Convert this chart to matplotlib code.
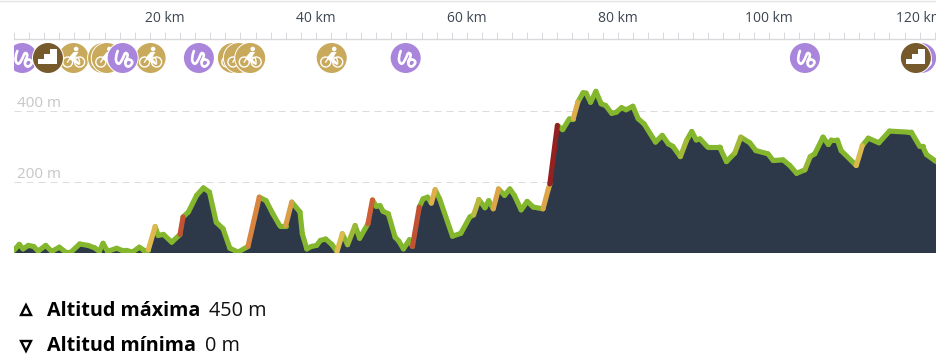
import matplotlib
matplotlib.use("Agg")
import matplotlib.pyplot as plt
import numpy as np
from matplotlib.collections import LineCollection
from matplotlib.colors import LinearSegmentedColormap, Normalize
from matplotlib.lines import Line2D
from matplotlib.patches import Ellipse, PathPatch
from matplotlib.path import Path

plt.rcParams["font.family"] = ["Open Sans", "DejaVu Sans"]

W, H = 937, 363
KM_MAX = 122.3

# perfil de altitud
km = [0, 0.7, 1.2, 1.9, 2.6, 3.2, 4.2, 5.0, 6.0, 6.8, 7.6, 8.7, 9.8, 10.7, 11.3, 11.8, 12.4, 13.6, 14.3, 14.9,
      15.7, 16.6, 17.1, 17.8, 18.7, 19.1, 19.8, 20.9, 22.0, 22.4, 23.1, 24.2, 25.1, 25.9, 26.8, 27.7, 28.6, 29.7,
      31.0, 32.5, 33.4, 34.3, 35.2, 36.0, 36.8, 37.9, 38.2, 38.8, 39.4, 40.1, 40.6, 41.3, 42.1, 42.8, 43.5, 44.2,
      45.2, 45.8, 46.9, 47.5, 48.0, 48.5, 48.9, 49.6, 50.5, 51.0, 51.6, 52.4, 52.8, 53.7, 54.2, 54.8, 55.3, 55.8,
      56.4, 58.1, 59.2, 60.4, 60.9, 61.6, 62.4, 62.9, 63.5, 64.2, 65.0, 65.7, 66.3, 67.2, 68.0, 68.8, 70.1, 70.8,
      71.0, 72.0, 72.7, 73.6, 74.1, 74.7, 75.4, 75.8, 76.4, 77.1, 77.8, 78.4, 79.2, 79.8, 80.5, 81.1, 82.0, 82.7,
      83.5, 85.0, 85.9, 86.7, 87.3, 88.3, 89.1, 89.8, 90.4, 90.9, 91.9, 93.5, 94.4, 95.5, 96.3, 97.5, 98.3, 99.9,
      100.6, 101.9, 102.8, 103.7, 104.8, 105.5, 106.1, 107.2, 107.9, 108.3, 109.1, 109.6, 111.6, 112.4, 113.2,
      114.6, 116.0, 118.5, 118.9, 120.0, 120.4, 120.9, 122.0, 122.3]
alt = [6, 23, 10, 20, 17, 4, 20, 3, 15, 2, 2, 24, 20, 13, 3, 26, 3, 12, 6, 6,
       1, 15, 8, 8, 73, 48, 51, 29, 51, 100, 114, 161, 182, 170, 85, 67, 12, 1,
       17, 156, 146, 109, 76, 76, 142, 114, 53, 10, 17, 20, 34, 38, 23, 3, 53, 22,
       76, 40, 81, 148, 130, 132, 116, 109, 43, 32, 10, 36, 17, 128, 151, 156, 139, 177,
       151, 46, 54, 100, 106, 149, 126, 146, 123, 179, 161, 179, 161, 120, 144, 128, 123, 179,
       193, 358, 346, 377, 377, 423, 450, 449, 423, 454, 419, 414, 392, 395, 408, 402, 412, 377,
       362, 311, 330, 306, 299, 270, 315, 341, 317, 320, 297, 297, 256, 280, 325, 309, 287, 278,
       259, 261, 245, 223, 233, 270, 278, 325, 304, 317, 317, 287, 245, 301, 322,
       309, 342, 339, 339, 299, 299, 276, 259, 255]

km_ticks = np.arange(0, 124, 2)
km_labels = [20, 40, 60, 80, 100, 120]
alt_labels = [200, 400]

# iconos, en orden de dibujo
icon_km = [1.1, 7.9, 11.8, 12.3, 18.1, 14.4, 4.5, 24.5, 29.0, 29.8, 31.3, 42.1, 51.9, 104.8, 120.2, 119.5]
icon_kind = ["curvas", "bici", "bici", "bici", "bici", "curvas", "escalera", "curvas", "bici", "bici", "bici",
             "bici", "curvas", "curvas", "curvas", "escalera"]
icon_colors = {"curvas": "#a986dc", "bici": "#c9aa5c", "escalera": "#775a2b"}

summary_labels = ["Altitud máxima", "Altitud mínima"]
summary_values = ["450 m", "0 m"]

slope_cmap = LinearSegmentedColormap.from_list(
    "pendiente", [(0, "#84b72e"), (0.28, "#84b72e"), (0.42, "#dfba4e"), (0.62, "#d4663a"), (1, "#8e1c20")])


def px_axes(left, top, right, bottom):
    return fig.add_axes([left / W, 1 - bottom / H, (right - left) / W, (bottom - top) / H])


def squiggle_path(pts):
    # curva suave que pasa por los puntos medios
    verts = [pts[0]]
    codes = [Path.MOVETO]
    for i in range(1, len(pts) - 1):
        verts += [pts[i], (pts[i] + pts[i + 1]) / 2]
        codes += [Path.CURVE3, Path.CURVE3]
    verts.append(pts[-1])
    codes.append(Path.LINETO)
    return Path(verts, codes)


def draw_icon(ax, x, kind, z):
    sx = 1 / PX_KM
    y = 58
    ax.add_patch(Ellipse((x, y), 32 * sx, 32, fc="white", ec="none", zorder=z))
    ax.add_patch(Ellipse((x, y), 30 * sx, 30, fc=icon_colors[kind], ec="none", zorder=z))
    if kind == "curvas":
        dx = np.array([-5, -8, -4, 0.5, 2.5, 6, 1.5, 5.5, 11, 5.5, 3])
        dy = np.array([-7, 1, 7.5, 0, -6, -3, 5, 10, 4, 0.5, 3.5])
        pts = np.column_stack([x + dx * sx, y + dy])
        ax.add_patch(PathPatch(squiggle_path(pts), fc="none", ec="white", lw=1.9, capstyle="round", zorder=z))
    elif kind == "escalera":
        dx = np.array([-10, -10, -4, -4, 2, 2, 9, 9, -10])
        dy = np.array([6, 1, 1, -4, -4, -9, -9, 6, 6])
        ax.fill(x + dx * sx, y + dy, color="white", ec="none", zorder=z)
    else:
        for off in (-6, 6):
            ax.add_patch(Ellipse((x + off * sx, y + 4), 10 * sx, 10, fc="none", ec="white", lw=1, zorder=z))
        ax.plot(x + np.array([-6, -2, 5, 6]) * sx, y + np.array([4, -2, 0, 4]), color="white", lw=1, zorder=z)
        ax.fill(x + np.array([0, 5, 1, 7, 5, -3, -5]) * sx, y + np.array([-6, -6, 0, 6, 7, 2, 0]), color="white",
                ec="none", zorder=z)
        ax.add_patch(Ellipse((x + 2.5 * sx, y - 9), 4.6 * sx, 4.6, fc="white", ec="none", zorder=z))


fig = plt.figure(figsize=(W / 100, H / 100), dpi=100, facecolor="white")
PX_KM = (W - 14) / KM_MAX

# perfil
ax = px_axes(14, 0, W, 252.5)
ax.set_xlim(0, KM_MAX)
ax.set_ylim(0, 252.5 / 0.355)
ax.axis("off")
for a in alt_labels:
    ax.axhline(a, color="#dcdcdc", lw=0.72, ls=(0, (7, 5)), zorder=1)
    ax.text(0.4, a - 2, f"{a} m", color="#c6c6c6", fontsize=11, va="bottom", ha="left", zorder=1)
ax.fill_between(km, alt, 0, color="#2d3949", lw=0, zorder=2)

km_arr = np.array(km)
alt_arr = np.array(alt)
segs = np.stack([np.column_stack([km_arr[:-1], alt_arr[:-1]]), np.column_stack([km_arr[1:], alt_arr[1:]])], axis=1)
slopes = np.diff(alt_arr) / np.diff(km_arr)
order = np.argsort(slopes)  # las subidas fuertes quedan encima
lc = LineCollection(segs[order], array=slopes[order], cmap=slope_cmap, norm=Normalize(0, 170), linewidths=3.7,
                    capstyle="round", joinstyle="round", zorder=3)
ax.add_collection(lc)

# regla de distancia
ruler = px_axes(14, 31, W, 38.5)
ruler.set_xlim(0, KM_MAX)
ruler.set_ylim(0, 1)
ruler.patch.set_visible(False)
for s in ["top", "left", "right"]:
    ruler.spines[s].set_visible(False)
ruler.spines["bottom"].set_color("#d9d9dd")
ruler.spines["bottom"].set_linewidth(1)
ruler.set_yticks([])
ruler.set_xticks(km_ticks)
ruler.tick_params(axis="x", direction="in", length=5, width=0.7, color="#d9d9dd", labelbottom=False)
for k in km_labels:
    fig.text((14 + k * PX_KM) / W, 1 - 18 / H, f"{k} km", color="#3d4652", fontsize=10, ha="center", va="center")
fig.add_artist(Line2D([0, 1], [1 - 0.5 / H] * 2, color="#e2e2e2", lw=1))

# iconos
icons = px_axes(14, 38, W, 78)
icons.set_xlim(0, KM_MAX)
icons.set_ylim(78, 38)
icons.axis("off")
for i, (k, kind) in enumerate(zip(icon_km, icon_kind)):
    draw_icon(icons, k, kind, i + 2)

# resumen
for i, (label, value) in enumerate(zip(summary_labels, summary_values)):
    y = 310 + i * 35.5
    fig.add_artist(Line2D([26 / W], [1 - y / H], marker="^" if i == 0 else "v", ms=7.5, mfc="white", mec="black",
                          mew=1.7, ls="none"))
    t = fig.text(47 / W, 1 - (y + 0.5) / H, label, fontsize=14.2, fontweight="bold", color="black", va="center")
    fig.canvas.draw()
    bb = t.get_window_extent()
    fig.text((bb.x1 + 9) / W, 1 - (y + 0.5) / H, value, fontsize=14.3, color="#111111", va="center")

fig.savefig("out.png", dpi=100)
